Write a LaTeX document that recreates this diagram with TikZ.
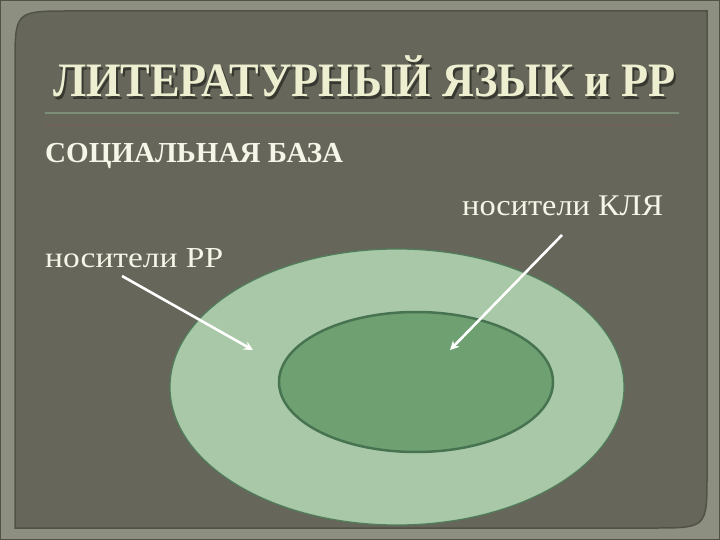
\documentclass[tikz,border=0pt]{standalone}
\usepackage{fontspec}
\usepackage{graphicx}
\setmainfont{Liberation Serif}
\usetikzlibrary{arrows.meta,shapes.geometric}
\definecolor{framecol}{RGB}{141,143,128}
\definecolor{panelcol}{RGB}{102,103,90}
\definecolor{paneledge}{RGB}{80,82,70}
\definecolor{titlecol}{RGB}{238,239,208}
\definecolor{textcol}{RGB}{246,246,232}
\definecolor{shadowcol}{RGB}{55,56,48}
\definecolor{rulegreen}{RGB}{125,142,120}
\definecolor{rulered}{RGB}{112,98,90}
\definecolor{outerfill}{RGB}{168,200,168}
\definecolor{outeredge}{RGB}{80,125,90}
\definecolor{innerfill}{RGB}{111,160,114}
\definecolor{inneredge}{RGB}{72,115,80}
\newcommand{\titletext}{\resizebox{622pt}{\height}{\bfseries\fontsize{48}{48}\selectfont ЛИТЕРАТУРНЫЙ ЯЗЫК и РР}}
\begin{document}
\begin{tikzpicture}[x=1pt,y=-1pt,
  lbl/.style={text=textcol, inner sep=0pt, anchor=base west},
  pointer/.style={draw=white, line width=2.6pt, -{Stealth[length=9pt,width=9pt]}}]
\useasboundingbox (0,0) rectangle (720,540);
\fill[framecol] (0,0) rectangle (720,540);
\draw[paneledge, line width=1pt] (0.5,0.5) rectangle (719.5,539.5);
% panel
\filldraw[fill=panelcol, draw=paneledge, line width=1.5pt]
  (15,528) -- (15,66) .. controls (15,11) .. (70,11) -- (707,11) -- (707,474)
  .. controls (707,528) .. (653,528) -- cycle;
% title
\node[inner sep=0pt, anchor=base west, text=shadowcol] at (55,99.5) {\titletext};
\node (title) [inner sep=0pt, anchor=base west, text=titlecol] at (53,97) {\titletext};
\coordinate (r1a) at (45,113); \coordinate (r1b) at (679,113);
\coordinate (r2a) at (45,125); \coordinate (r2b) at (672,125);
\draw[rulegreen, line width=2pt] (r1a) -- (r1b);
\draw[rulered, line width=1.2pt] (r2a) -- (r2b);
% subtitle
\node (social) [lbl] at (45,163) {\resizebox{298pt}{\height}{\bfseries\fontsize{29}{29}\selectfont СОЦИАЛЬНАЯ БАЗА}};
% ellipses
\node (outer) [ellipse, draw=outeredge, line width=1.2pt, fill=outerfill, minimum width=454pt, minimum height=276pt, inner sep=0pt] at (397,387) {};
\node (inner) [ellipse, draw=inneredge, line width=2.5pt, fill=innerfill, minimum width=274pt, minimum height=140pt, inner sep=0pt] at (416,382) {};
% labels
\node (kla) [lbl] at (462,215) {\resizebox{201pt}{\height}{\fontsize{30}{30}\selectfont носители КЛЯ}};
\node (rr) [lbl] at (45,267) {\resizebox{178pt}{\height}{\fontsize{29}{29}\selectfont носители РР}};
\coordinate (a1s) at (122,276); \coordinate (a1e) at (253,350);
\coordinate (a2s) at (562,235); \coordinate (a2e) at (450,350);
\draw[pointer] (a1s) -- (a1e);
\draw[pointer] (a2s) -- (a2e);
\end{tikzpicture}
\end{document}
